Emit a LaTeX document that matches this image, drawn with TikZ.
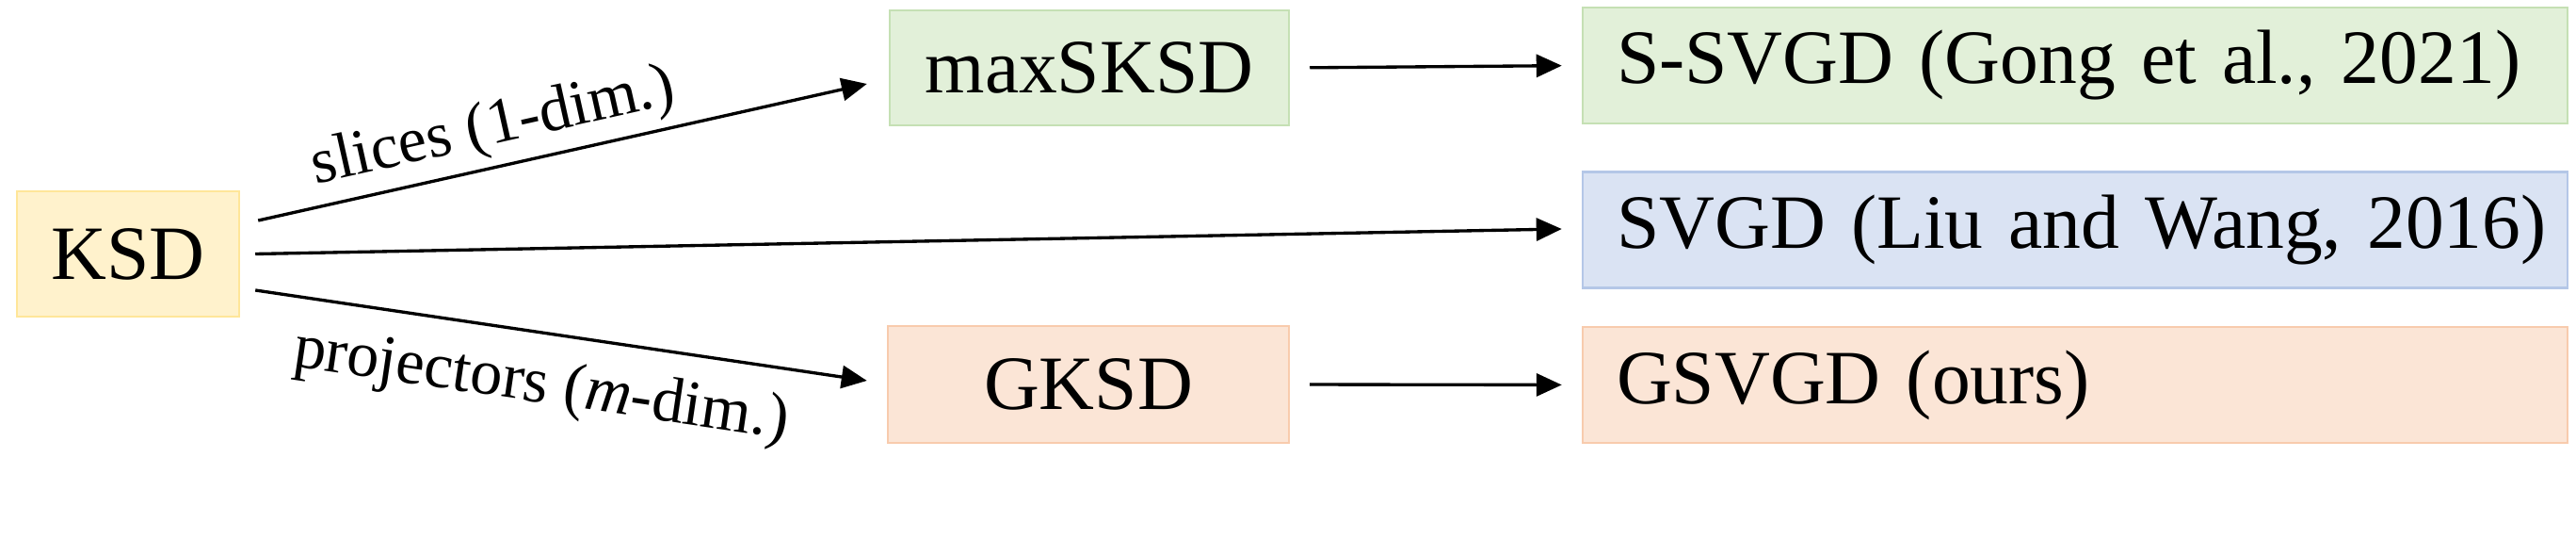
\documentclass[tikz,border=0pt]{standalone}
\usepackage{fontspec}
\setmainfont{Liberation Serif}
\usetikzlibrary{arrows.meta}
\definecolor{ksdfill}{HTML}{FFF2CC}
\definecolor{ksdline}{HTML}{FFE699}
\definecolor{greenfill}{HTML}{E2F0D9}
\definecolor{greenline}{HTML}{C5E0B4}
\definecolor{bluefill}{HTML}{DAE3F3}
\definecolor{blueline}{HTML}{B4C7E7}
\definecolor{orangefill}{HTML}{FBE5D6}
\definecolor{orangeline}{HTML}{F8CBAD}
\begin{document}
\begin{tikzpicture}[
    box/.style={draw, line width=0.7pt, inner sep=0pt, font=\fontsize{23.2}{28}\selectfont},
    wide/.style={box, minimum height=1.23cm, text width=9.74cm, align=left, inner xsep=0.36cm},
    arr/.style={line width=0.95pt, -{Triangle[length=0.27cm,width=0.24cm]}},
    lab/.style={font=\fontsize{19.4}{23}\selectfont, sloped}
  ]
  \useasboundingbox (0,0) rectangle (27.36,-5.72);
  % nodes
  \node[box, fill=ksdfill, draw=ksdline, minimum width=2.36cm, minimum height=1.33cm] (ksd) at (1.36,-2.695) {KSD};
  \node[box, fill=greenfill, draw=greenline, minimum width=4.24cm, minimum height=1.22cm] (maxsksd) at (11.57,-0.72) {maxSKSD};
  \node[box, fill=orangefill, draw=orangeline, minimum width=4.26cm, minimum height=1.24cm] (gksd) at (11.56,-4.08) {GKSD};
  \node[wide, fill=greenfill, draw=greenline] (ssvgd) at (22.04,-0.695) {S-SVGD (Gong et al., 2021)};
  \node[wide, fill=bluefill, draw=blueline] (svgd) at (22.04,-2.44) {\mbox{SVGD (Liu and Wang, 2016)}};
  \node[wide, fill=orangefill, draw=orangeline] (gsvgd) at (22.04,-4.085) {GSVGD (ours)};
  % arrows
  \draw[arr] ([xshift=0.19cm,yshift=0.355cm]ksd.east) -- ([xshift=-0.23cm,yshift=-0.17cm]maxsksd.west)
    node[lab, pos=0.4, above, inner sep=2.3pt] {slices (1-dim.)};
  \draw[arr] ([xshift=0.16cm]ksd.east) -- ([xshift=-0.21cm,yshift=0.01cm]svgd.west);
  \draw[arr] ([xshift=0.16cm,yshift=-0.385cm]ksd.east) -- ([xshift=-0.21cm,yshift=0.04cm]gksd.west)
    node[lab, pos=0.48, below, inner sep=7pt] {projectors (\textit{m}-dim.)};
  \draw[arr, shorten <=0.21cm, shorten >=0.21cm] (maxsksd.east) -- (ssvgd.west);
  \draw[arr, shorten <=0.21cm, shorten >=0.21cm] (gksd.east) -- (gsvgd.west);
\end{tikzpicture}
\end{document}
